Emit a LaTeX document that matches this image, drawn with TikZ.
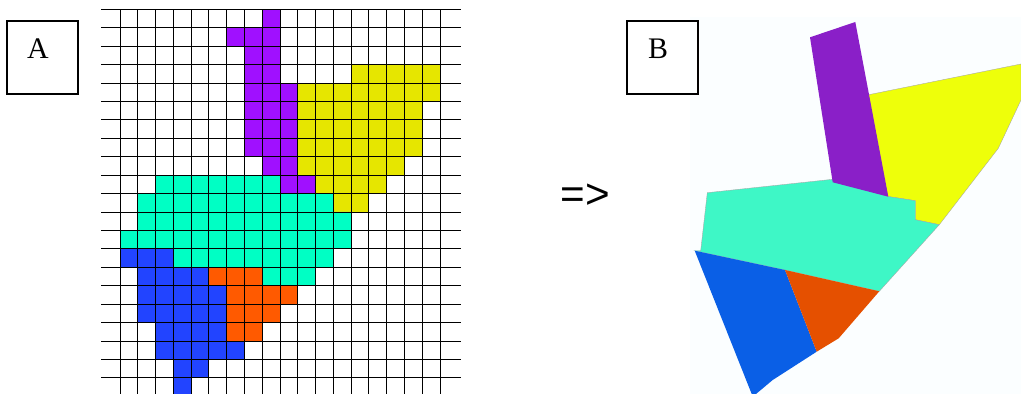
\documentclass[tikz,border=0pt]{standalone}
\usepackage{fontspec}
\setmainfont{Liberation Serif}
\newfontfamily\arrowfont{Liberation Sans}
\definecolor{gridpurple}{HTML}{A010FF}
\definecolor{gridyellow}{HTML}{E6E600}
\definecolor{gridteal}{HTML}{00FFC4}
\definecolor{gridblue}{HTML}{2244FF}
\definecolor{gridorange}{HTML}{FF5A00}
\definecolor{mappurple}{HTML}{8A1FC8}
\definecolor{mapyellow}{HTML}{EEFF0A}
\definecolor{mapteal}{HTML}{3EF7C6}
\definecolor{mapblue}{HTML}{0A5FE6}
\definecolor{maporange}{HTML}{E55000}
\definecolor{mapback}{HTML}{FBFEFF}
\begin{document}
\begin{tikzpicture}[
	x = 0.02cm, y = -0.02cm,
	labelbox/.style = {draw,line width=0.7pt,minimum width=1.42cm,minimum height=1.46cm,inner sep=0,font=\fontsize{17}{17}\selectfont,text height=11.2pt,text depth=9.5pt},
	gridline/.style = {line width=0.55pt},
	mapshape/.style = {draw=black!35,line width=0.2pt}
	]
	\useasboundingbox (0,0) rectangle (1021,394);
	\fill[mapback] (690,17) rectangle (1021,394);

	% grid A, in cell units
	\begin{scope}[shift={(120,9.3)},x=0.3556cm,y=-0.3686cm]
		\fill[gridpurple] (8,0) -| (9,4) -| (10,9) -| (11,10) -| (9,9) -| (8,8) -| (7,2) -| (6,1) -| (8,0);
		\fill[gridyellow] (13,3) -| (18,5) -| (17,8) -| (16,9) -| (15,10) -| (14,11) -| (12,10) -| (11,9) -| (10,4) -| (13,3);
		\fill[gridteal] (2,9) -| (9,10) -| (12,11) -| (13,13) -| (12,14) -| (11,15) -| (8,14) -| (3,13) -| (0,12) -| (1,10) -| (2,9);
		\fill[gridblue] (0,13) -| (3,14) -| (5,15) -| (6,18) -| (7,19) -| (5,20) -| (4,21) -| (3,19) -| (2,17) -| (1,14) -| (0,13);
		\fill[gridorange] (5,14) -| (8,15) -| (10,16) -| (9,17) -| (8,18) -| (6,15) -| (5,14);
	\end{scope}
	\foreach \c in {0,...,18}
		\draw[gridline] ({120+17.78*\c},9.3) -- ({120+17.78*\c},394);
	\foreach \r in {0,...,20}
		\draw[gridline] (101,{9.3+18.43*\r}) -- (461,{9.3+18.43*\r});

	% map B
	\draw[mapshape,fill=mapyellow] (867.3,95) -- (1021,64) -- (1021,100) -- (998.3,148.3) -- (939.3,224.7) -- (915.3,219.7) -- (915.3,200.7) -- (888,196.5) -- (880,190) -- cycle;
	\draw[mapshape,fill=mapteal] (707.3,192.7) -- (832.7,179.3) -- (888,196.5) -- (915.3,200.7) -- (915.3,219.7) -- (939.3,224.7) -- (879.3,291.3) -- (785,270) -- (694.7,250.7) -- (700.7,250.7) -- cycle;
	\fill[mappurple] (810,37.3) -- (855.3,22) -- (888.3,196.7) -- (832.7,182.3) -- cycle;
	\fill[mapblue] (694.7,250.7) -- (785,270) -- (816.7,351.7) -- (772.7,380) -- (756,394) -- (751.7,394) -- cycle;
	\fill[maporange] (785,270) -- (879.3,291.3) -- (838.7,338.3) -- (816.7,351.7) -- cycle;

	\node[labelbox] (boxA) at (42.5,57.5) {A\kern0.18cm};
	\node[labelbox] (boxB) at (662.5,57.5) {B\kern0.18cm};
	\node[font=\arrowfont\fontsize{24}{24}\selectfont,inner sep=0] (arrow) at (585,196) {=>};
\end{tikzpicture}
\end{document}
